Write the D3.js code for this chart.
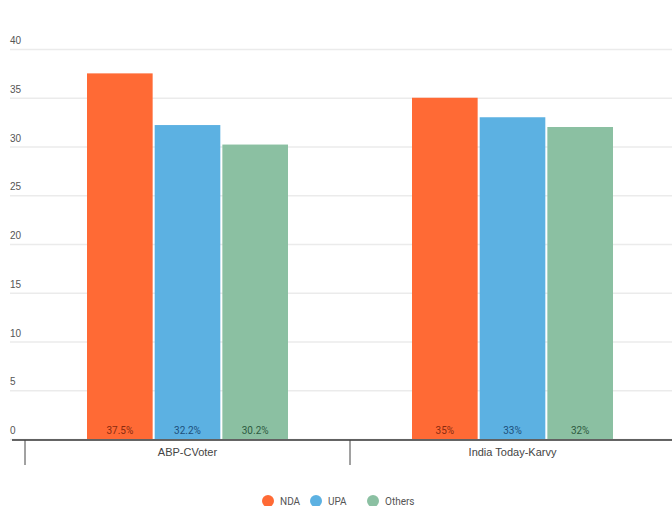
<!DOCTYPE html>
<html>
<head>
<meta charset="utf-8">
<script src="https://cdn.jsdelivr.net/npm/d3@7"></script>
<style>
body { margin: 0; background: #fff; }
svg { font-family: "Roboto", "Liberation Sans Narrow", sans-serif; }
</style>
</head>
<body>
<svg id="svg"></svg>
<script>
var width = 672, height = 506;

var polls = ["ABP-CVoter", "India Today-Karvy"];
var parties = ["NDA", "UPA", "Others"];
var nda = [37.5, 35];
var upa = [32.2, 33];
var others = [30.2, 32];
var valueLabels = [["37.5%", "32.2%", "30.2%"], ["35%", "33%", "32%"]];
var yTicks = [0, 5, 10, 15, 20, 25, 30, 35, 40];

var colors = ["#ff6a35", "#5cb1e2", "#8bc0a2"];
var labelColors = ["#8a2a10", "#1d4f7a", "#2e5a40"];

var svg = d3.select("#svg")
	.attr("width", width)
	.attr("height", height);

var data = polls.map(function(p, i) {
	return {poll: p, values: [nda[i], upa[i], others[i]], labels: valueLabels[i]};
});

var x0 = d3.scaleBand()
	.domain(polls)
	.range([25, 675]);

var x1 = d3.scaleBand()
	.domain(parties)
	.range([0, 201])
	.paddingInner(0.03);

var y = d3.scaleLinear()
	.domain([0, 40])
	.range([439, 49]);

var z = d3.scaleOrdinal().domain(parties).range(colors);
var zText = d3.scaleOrdinal().domain(parties).range(labelColors);

// grid + y labels
var yAxis = svg.append("g")
	.attr("transform", "translate(672,0)")
	.call(d3.axisLeft(y).tickValues(yTicks).tickSize(662));
yAxis.select(".domain").remove();
yAxis.selectAll(".tick line")
	.attr("stroke", "#ebebeb")
	.attr("stroke-width", 1.5);
yAxis.selectAll(".tick text")
	.attr("x", -662)
	.attr("dy", "-0.55em")
	.attr("text-anchor", "start")
	.attr("fill", "#555")
	.attr("font-size", 10);

// bars
var groups = svg.append("g")
	.selectAll("g")
	.data(data)
	.enter()
	.append("g")
	.attr("transform", function(d) { return "translate(" + (x0(d.poll) + (x0.bandwidth() - 201) / 2) + ",0)"; });

var cells = groups.selectAll("g")
	.data(function(d) { return parties.map(function(p, j) { return {key: p, value: d.values[j], label: d.labels[j]}; }); })
	.enter()
	.append("g");

cells.append("rect")
	.attr("x", function(d) { return x1(d.key); })
	.attr("y", function(d) { return y(d.value); })
	.attr("width", x1.bandwidth())
	.attr("height", function(d) { return y(0) - y(d.value); })
	.attr("fill", function(d) { return z(d.key); });

cells.append("text")
	.attr("x", function(d) { return x1(d.key) + x1.bandwidth() / 2; })
	.attr("y", y(0) - 5)
	.attr("text-anchor", "middle")
	.attr("font-size", 10)
	.attr("fill", function(d) { return zText(d.key); })
	.text(function(d) { return d.label; });

// x axis
var xAxis = svg.append("g")
	.attr("transform", "translate(0," + 440 + ")")
	.call(d3.axisBottom(x0).tickSize(0).tickPadding(8));
xAxis.select(".domain")
	.attr("d", "M12,0H672")
	.attr("stroke", "#333")
	.attr("stroke-width", 1.5);
xAxis.selectAll(".tick text")
	.attr("fill", "#444")
	.attr("font-size", 11);

svg.append("g")
	.selectAll("line")
	.data(polls)
	.enter()
	.append("line")
	.attr("x1", function(d) { return x0(d); })
	.attr("x2", function(d) { return x0(d); })
	.attr("y1", 440)
	.attr("y2", 465)
	.attr("stroke", "#444")
	.attr("stroke-width", 1);

// legend
var legendX = [268, 316, 373];
var legend = svg.append("g")
	.selectAll("g")
	.data(parties)
	.enter()
	.append("g")
	.attr("transform", function(d, i) { return "translate(" + legendX[i] + ",501)"; });

legend.append("circle")
	.attr("r", 6)
	.attr("fill", z);

legend.append("text")
	.attr("x", 12)
	.attr("dy", "0.35em")
	.attr("font-size", 10)
	.attr("fill", "#555")
	.text(function(d) { return d; });
</script>
</body>
</html>
